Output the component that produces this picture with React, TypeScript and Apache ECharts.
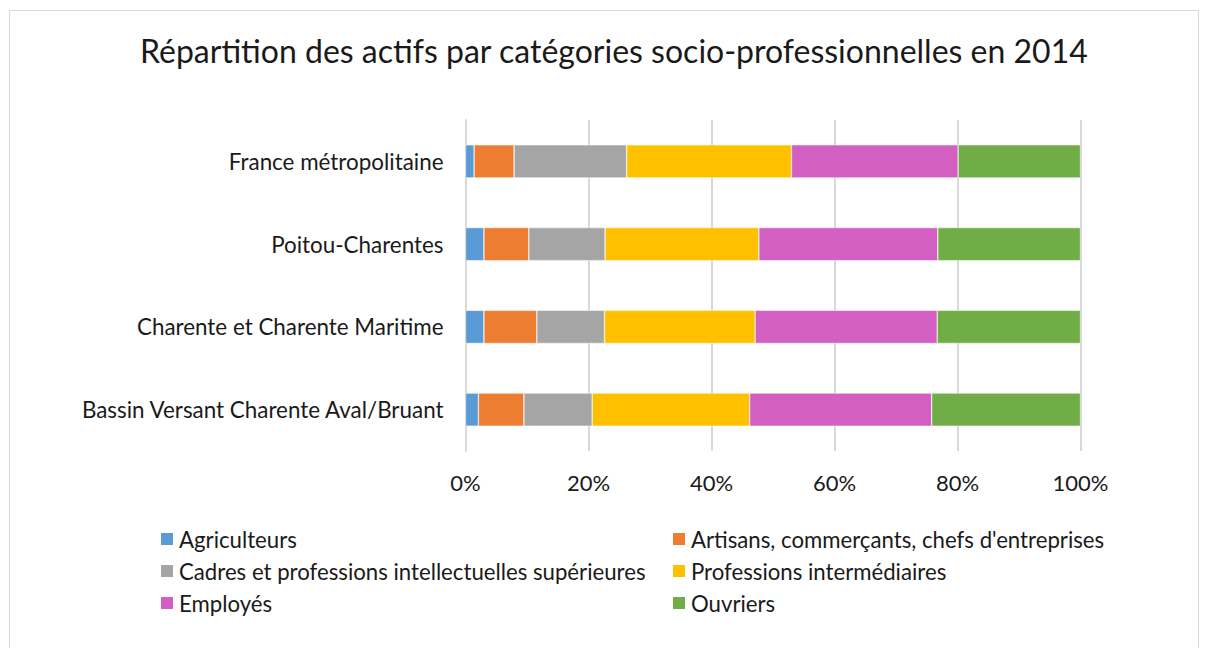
import React, { useEffect, useRef } from "react";
import * as echarts from "echarts";

const categories = [
  "France métropolitaine",
  "Poitou-Charentes",
  "Charente et Charente Maritime",
  "Bassin Versant Charente Aval/Bruant",
];
const seriesNames = [
  "Agriculteurs",
  "Artisans, commerçants, chefs d'entreprises",
  "Cadres et professions intellectuelles supérieures",
  "Professions intermédiaires",
  "Employés",
  "Ouvriers",
];
const agriculteurs = [1.4, 3.0, 3.0, 2.1];
const artisans = [6.5, 7.3, 8.6, 7.4];
const cadres = [18.3, 12.4, 11.0, 11.1];
const professionsInter = [26.8, 25.0, 24.5, 25.6];
const employes = [27.1, 29.1, 29.6, 29.6];
const ouvriers = [19.9, 23.2, 23.3, 24.2];
const colors = ["#5B9BD5", "#ED7D31", "#A5A5A5", "#FFC000", "#D35FC2", "#70AD47"];
const titleText = "Répartition des actifs par catégories socio-professionnelles en 2014";

export default function App() {
  const ref = useRef<HTMLDivElement>(null);
  useEffect(() => {
    document.body.style.margin = "0";
    const chart = echarts.init(ref.current!, null, { renderer: "svg" });
    const values = [agriculteurs, artisans, cadres, professionsInter, employes, ouvriers];
    const font = "Lato";
    const legendCommon = {
      orient: "vertical",
      top: 528,
      padding: 0,
      itemWidth: 14,
      itemHeight: 14,
      itemGap: 10,
      icon: "rect",
      textStyle: { fontFamily: font, fontSize: 22.2, lineHeight: 22, color: "#1a1a1a" },
    };
    chart.setOption({
      animation: false,
      textStyle: { fontFamily: font },
      title: {
        text: titleText,
        left: 140,
        top: 34,
        padding: 0,
        textStyle: { fontFamily: font, fontSize: 32, fontWeight: "normal", color: "#1a1a1a" },
      },
      graphic: [
        {
          type: "rect",
          shape: { x: 9.5, y: 10.5, width: 1189, height: 660 },
          style: { fill: "none", stroke: "#d9d9d9", lineWidth: 1 },
          silent: true,
        },
      ],
      legend: [
        { ...legendCommon, data: [seriesNames[0], seriesNames[2], seriesNames[4]], left: 159 },
        { ...legendCommon, data: [seriesNames[1], seriesNames[3], seriesNames[5]], left: 671 },
      ],
      grid: { left: 465.5, right: 127.5, top: 120, bottom: 648 - 451, containLabel: false },
      xAxis: {
        type: "value",
        min: 0,
        max: 100,
        interval: 20,
        axisLabel: {
          formatter: "{value}%",
          fontFamily: font,
          fontSize: 22,
          color: "#1a1a1a",
          margin: 20,
        },
        splitLine: { lineStyle: { color: "#d9d9d9", width: 2 } },
        axisLine: { show: false },
        axisTick: { show: false },
      },
      yAxis: {
        type: "category",
        data: categories,
        inverse: true,
        axisLabel: { fontFamily: font, fontSize: 22.4, color: "#1a1a1a", margin: 22 },
        axisLine: { show: true, lineStyle: { color: "#d9d9d9", width: 2 } },
        axisTick: { show: false },
      },
      series: seriesNames.map((name, i) => ({
        name,
        type: "bar",
        stack: "total",
        data: values[i],
        barWidth: "40%",
        itemStyle: { color: colors[i], borderColor: "#ffffff", borderWidth: 0.5 },
      })),
    });
    return () => chart.dispose();
  }, []);
  return <div ref={ref} style={{ width: 1208, height: 648 }} />;
}
